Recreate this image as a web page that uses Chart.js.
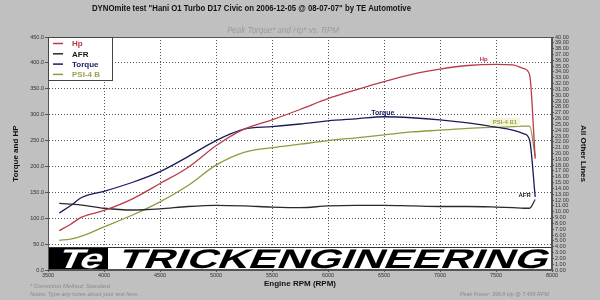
<!DOCTYPE html>
<html>
<head>
<meta charset="utf-8">
<script src="https://cdn.jsdelivr.net/npm/chart.js@4/dist/chart.umd.min.js"></script>
<style>
  body { margin: 0; background: #c0c0c0; }
  canvas { display: block; }
</style>
</head>
<body>
<canvas id="dyno" width="600" height="300"></canvas>
<script>
// values
const rpm    = [3600, 3700, 3800, 4000, 4250, 4500, 4750, 5000, 5250, 5500, 5750, 6000, 6250, 6500, 6750, 7000, 7250, 7500, 7650, 7750, 7800, 7850];
const hp     = [76, 88, 102, 115, 137, 167, 198, 240, 272, 290, 310, 331, 348, 364, 378, 388, 395, 397, 396, 389, 377, 215];
const torque = [110, 124, 140, 152, 169, 190, 219, 250, 272, 277, 282, 288, 292, 296, 294, 290, 284, 276, 270, 263, 251, 141];
const afr    = [11.45, 11.3, 11.15, 10.6, 10.3, 10.5, 10.9, 11.1, 11.0, 10.8, 10.7, 11.0, 11.1, 11.1, 11.0, 10.9, 10.9, 10.8, 10.7, 10.6, 10.6, 12.1];
const psi    = [5.1, 5.3, 5.8, 7.4, 9.4, 11.7, 14.5, 18.0, 20.2, 21.0, 21.6, 22.2, 22.7, 23.2, 23.7, 24.0, 24.3, 24.5, 24.6, 24.7, 24.7, 19.5];

const FONT = "'Liberation Sans', Arial, sans-serif";

function pts(vals) {
  return rpm.map((r, i) => ({ x: r, y: vals[i] }));
}

// squeeze text to a given width, like the original (narrow) print
function fitText(ctx, text, x, y, w, skew) {
  const m = ctx.measureText(text).width;
  ctx.save();
  ctx.translate(x, y);
  if (skew) ctx.transform(1, 0, -skew, 1, 0, 0);
  ctx.scale(w / m, 1);
  ctx.textAlign = 'left';
  ctx.fillText(text, 0, 0);
  ctx.restore();
}

const dynoSheet = {
  id: 'dynoSheet',
  beforeDraw(chart) {
    const { ctx, chartArea: a } = chart;
    ctx.save();
    ctx.fillStyle = '#c0c0c0';
    ctx.fillRect(0, 0, chart.width, chart.height);
    ctx.fillStyle = '#ffffff';
    ctx.fillRect(a.left, a.top, a.right - a.left, a.bottom - a.top);
    ctx.restore();
  },
  afterDatasetsDraw(chart) {
    const { ctx, chartArea: a, scales } = chart;
    const xs = scales.x, yl = scales.y, yr = scales.y2;
    ctx.save();

    // logo band across the bottom of the plot
    const bandTop = 247;
    ctx.fillStyle = '#ffffff';
    ctx.fillRect(a.left, bandTop, a.right - a.left, a.bottom - bandTop);
    ctx.strokeStyle = '#333';
    ctx.lineWidth = 1;
    ctx.beginPath();
    ctx.moveTo(a.left, bandTop + 0.5);
    ctx.lineTo(a.right, bandTop + 0.5);
    ctx.stroke();
    ctx.fillStyle = '#000';
    ctx.fillRect(a.left, bandTop + 1, 60, a.bottom - bandTop - 1);
    ctx.save();
    ctx.beginPath();
    ctx.rect(a.left, bandTop + 1, a.right - a.left, a.bottom - bandTop - 1);
    ctx.clip();
    ctx.font = 'bold 27px ' + FONT;
    ctx.textBaseline = 'alphabetic';
    ctx.fillStyle = '#fff';
    fitText(ctx, 'Te', a.left + 8, a.bottom - 2, 44, 0.45);
    ctx.fillStyle = '#000';
    fitText(ctx, 'TRICKENGINEERING', a.left + 68, a.bottom - 2, 430, 0.45);
    ctx.restore();

    // plot frame
    ctx.strokeStyle = '#555';
    ctx.lineWidth = 1;
    ctx.strokeRect(a.left + 0.5, a.top + 0.5, a.right - a.left - 1, a.bottom - a.top - 1);

    // legend box
    const lx = a.left, ly = a.top;
    ctx.fillStyle = '#fff';
    ctx.fillRect(lx, ly, 64, 43);
    ctx.strokeStyle = '#444';
    ctx.strokeRect(lx + 0.5, ly + 0.5, 64, 43);
    const legendText = ['#c0304a', '#1a1a1a', '#1c1c66', '#a0a050'];
    ctx.font = 'bold 8px ' + FONT;
    ctx.textBaseline = 'middle';
    chart.data.datasets.forEach((ds, i) => {
      const yy = ly + 6.5 + i * 10.3;
      ctx.strokeStyle = ds.borderColor;
      ctx.lineWidth = 1.5;
      ctx.beginPath();
      ctx.moveTo(lx + 5, yy);
      ctx.lineTo(lx + 15, yy);
      ctx.stroke();
      ctx.fillStyle = legendText[i];
      ctx.textAlign = 'left';
      ctx.fillText(ds.label, lx + 24, yy + 0.5);
    });

    // labels on the curves
    ctx.font = 'bold 6px ' + FONT;
    ctx.textAlign = 'center';
    ctx.fillStyle = '#c0304a';
    ctx.fillText('Hp', xs.getPixelForValue(7390), yl.getPixelForValue(406));
    ctx.fillStyle = '#1c1c66';
    ctx.font = 'bold 7px ' + FONT;
    ctx.fillText('Torque', xs.getPixelForValue(6490), yl.getPixelForValue(303));
    ctx.font = 'bold 6px ' + FONT;
    const px = xs.getPixelForValue(7580), py = yr.getPixelForValue(25.4);
    ctx.fillStyle = 'rgba(245,245,215,0.9)';
    ctx.fillRect(px - 15, py - 4, 30, 8);
    ctx.fillStyle = '#a0a050';
    ctx.fillText('PSI-4 B1', px, py);
    ctx.fillStyle = '#222';
    ctx.fillText('AFR', xs.getPixelForValue(7755), yr.getPixelForValue(12.9));

    // header and footer texts
    ctx.textBaseline = 'alphabetic';
    ctx.fillStyle = '#111';
    ctx.font = 'bold 9px ' + FONT;
    fitText(ctx, 'DYNOmite test "Hani O1 Turbo D17 Civic on 2006-12-05 @ 08-07-07" by TE Automotive', 92, 11, 319);
    ctx.fillStyle = '#9a9a9a';
    ctx.font = 'italic 9px ' + FONT;
    fitText(ctx, 'Peak Torque* and Hp* vs. RPM', 227, 33, 112);
    ctx.fillStyle = '#8a8a8a';
    ctx.font = 'italic 6px ' + FONT;
    fitText(ctx, '* Correction Method: Standard', 30, 288, 80);
    fitText(ctx, 'Notes: Type any notes about your test here.', 30, 296, 109);
    fitText(ctx, 'Peak Power: 396.8 Hp @ 7,459 RPM', 460, 296, 89);
    ctx.restore();
  }
};

const lineStyle = {
  borderWidth: 1.3,
  pointRadius: 0,
  fill: false,
  cubicInterpolationMode: 'monotone'
};

new Chart(document.getElementById('dyno'), {
  type: 'line',
  data: {
    datasets: [
      { label: 'Hp', data: pts(hp), borderColor: '#b83c4c', yAxisID: 'y', ...lineStyle },
      { label: 'AFR', data: pts(afr), borderColor: '#2a2a2a', yAxisID: 'y2', ...lineStyle },
      { label: 'Torque', data: pts(torque), borderColor: '#1c1c5c', yAxisID: 'y', ...lineStyle },
      { label: 'PSI-4 B', data: pts(psi), borderColor: '#8e9c3e', yAxisID: 'y2', ...lineStyle }
    ]
  },
  options: {
    responsive: false,
    animation: false,
    layout: { padding: { top: 37, left: 0, right: 0, bottom: 0 } },
    plugins: {
      legend: { display: false },
      title: { display: false },
      tooltip: { enabled: false }
    },
    scales: {
      x: {
        type: 'linear',
        min: 3500,
        max: 8000,
        afterFit: (s) => { s.height = 30; },
        ticks: {
          stepSize: 500,
          padding: 0,
          maxRotation: 0,
          color: '#333',
          font: { family: FONT, size: 5.5 },
          callback: (v) => String(v)
        },
        grid: { color: '#555', lineWidth: 1, tickLength: 2, tickColor: '#555' },
        border: { color: '#555', dash: [1, 2] },
        title: {
          display: true,
          text: 'Engine RPM (RPM)',
          color: '#111',
          font: { family: FONT, size: 8, weight: 'bold' },
          padding: { top: 0, bottom: 11 }
        }
      },
      y: {
        position: 'left',
        min: 0,
        max: 450,
        afterFit: (s) => { s.width = 48; },
        ticks: {
          stepSize: 50,
          padding: 1,
          color: '#333',
          font: { family: FONT, size: 5.5 },
          callback: (v) => v.toFixed(1)
        },
        grid: { color: '#555', lineWidth: 1, tickLength: 3, tickColor: '#555' },
        border: { color: '#555', dash: [1, 2] },
        title: {
          display: true,
          text: 'Torque and HP',
          color: '#111',
          font: { family: FONT, size: 8, weight: 'bold' },
          padding: { top: 11, bottom: 0 }
        }
      },
      y2: {
        position: 'right',
        min: 0,
        max: 40,
        afterFit: (s) => { s.width = 48; },
        ticks: {
          stepSize: 1,
          autoSkip: false,
          padding: 1,
          color: '#333',
          font: { family: FONT, size: 5.5 },
          callback: (v) => v.toFixed(2)
        },
        grid: { drawOnChartArea: false, tickLength: 2, tickColor: '#555' },
        border: { color: '#555' },
        title: {
          display: true,
          text: 'All Other Lines',
          color: '#111',
          font: { family: FONT, size: 8, weight: 'bold' },
          padding: { top: 12, bottom: 0 }
        }
      }
    }
  },
  plugins: [dynoSheet]
});
</script>
</body>
</html>
